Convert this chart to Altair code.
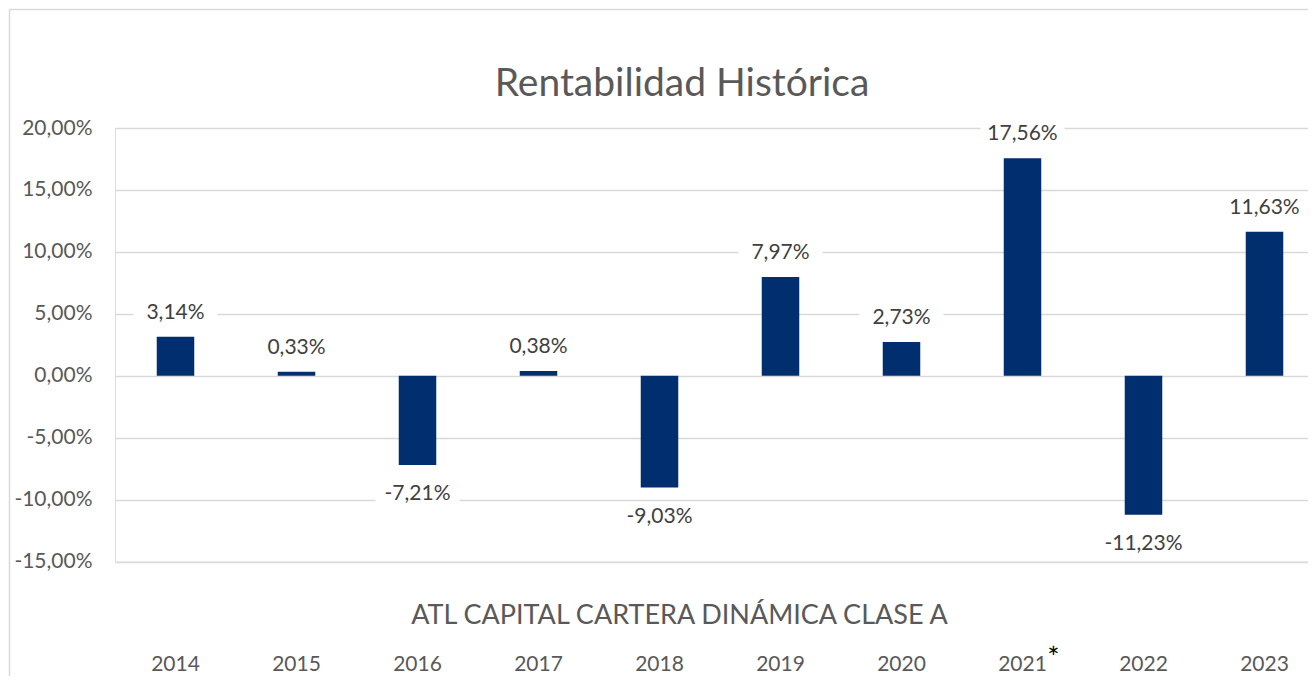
import altair as alt
import pandas as pd

# ---- data ----
years = ["2014", "2015", "2016", "2017", "2018", "2019", "2020", "2021", "2022", "2023"]
returns = [3.14, 0.33, -7.21, 0.38, -9.03, 7.97, 2.73, 17.56, -11.23, 11.63]
y_ticks = [-15, -10, -5, 0, 5, 10, 15, 20]
series_name = "ATL CAPITAL CARTERA DINÁMICA CLASE A"
chart_title = ["Rentabilidad Histórica"]
note_year = ["2021"]
note_mark = ["*"]

df = pd.DataFrame({"year": years, "ret": returns})
df["label"] = df["ret"].map(lambda v: f"{v:.2f}".replace(".", ",") + "%")

FONT = "Lato"
W = 1193
H = 433.5
GRID = "#d9d9d9"
AXIS_TXT = "#595959"
LBL_TXT = "#404040"
BAR = "#002E6E"

x_enc = alt.X(
    "year:N",
    sort=years,
    scale=alt.Scale(range=[0, 1210], paddingInner=0.69, paddingOuter=0.345),
    axis=alt.Axis(
        title=series_name,
        labelAngle=0,
        domain=False,
        ticks=False,
        grid=False,
        labelPadding=92,
        labelFontSize=21,
        labelColor=AXIS_TXT,
        labelFont=FONT,
        titleFont=FONT,
        titleFontSize=27,
        titleColor=AXIS_TXT,
        titleFontWeight="normal",
        titleY=54,
        titleX=564,
        titleBaseline="middle",
    ),
)
y_enc = alt.Y(
    "ret:Q",
    scale=alt.Scale(domain=[-15, 20], nice=False),
    axis=alt.Axis(
        values=y_ticks,
        labelExpr="(datum.value < 0 ? '-' : '') + replace(format(abs(datum.value), '.2f'), '.', ',') + '%'",
        title=None,
        domain=False,
        ticks=False,
        labelPadding=23,
        labelFontSize=21,
        labelFont=FONT,
        labelColor=AXIS_TXT,
        gridColor=GRID,
        gridWidth=1.5,
    ),
)

base = alt.Chart(df)

bars = base.mark_bar(color=BAR).encode(x=x_enc, y=y_enc)

box_shape = "M-1,-0.28L1,-0.28L1,0.28L-1,0.28Z"
boxes_pos = base.transform_filter("datum.ret >= 0").mark_point(
    shape=box_shape, filled=True, fill="white", opacity=1, size=84 * 84, strokeWidth=0, yOffset=-24
).encode(x=alt.X("year:N", sort=years), y="ret:Q")
boxes_neg = base.transform_filter("datum.ret < 0").mark_point(
    shape=box_shape, filled=True, fill="white", opacity=1, size=84 * 84, strokeWidth=0, yOffset=29
).encode(x=alt.X("year:N", sort=years), y="ret:Q")

text_pos = base.transform_filter("datum.ret >= 0").mark_text(
    font=FONT, fontSize=21, color=LBL_TXT, baseline="middle", dy=-24
).encode(x=alt.X("year:N", sort=years), y="ret:Q", text="label:N")
text_neg = base.transform_filter("datum.ret < 0").mark_text(
    font=FONT, fontSize=21, color=LBL_TXT, baseline="middle", dy=29
).encode(x=alt.X("year:N", sort=years), y="ret:Q", text="label:N")

star = alt.Chart(pd.DataFrame({"year": note_year, "t": note_mark})).mark_text(
    font=FONT, fontSize=29, color="black", baseline="top", align="center", dx=31
).encode(x=alt.X("year:N", sort=years), y=alt.value(H + 83), text="t:N")

title_txt = alt.Chart(pd.DataFrame({"t": chart_title})).mark_text(
    font=FONT, fontSize=39, color=AXIS_TXT, baseline="middle", align="center"
).encode(x=alt.value(567), y=alt.value(-44), text="t:N")

one = pd.DataFrame({"a": [0]})
border_v = alt.Chart(one).mark_rule(color=GRID, strokeWidth=1.5).encode(
    x=alt.value(-105.5), y=alt.value(-118.5), y2=alt.value(H + 300)
)
border_h = alt.Chart(one).mark_rule(color=GRID, strokeWidth=1.5).encode(
    x=alt.value(-105.5), x2=alt.value(W + 300), y=alt.value(-118.5)
)

chart = (
    alt.layer(border_v, border_h, bars, boxes_pos, boxes_neg, text_pos, text_neg, star, title_txt)
    .properties(
        width=W,
        height=H,
        padding={"left": 107, "top": 120, "right": 0, "bottom": 114},
        autosize=alt.AutoSizeParams(type="none"),
    )
    .configure_view(stroke=None)
    .configure(background="white")
)

chart.save("out.html", embed_options={"renderer": "svg", "actions": False})
